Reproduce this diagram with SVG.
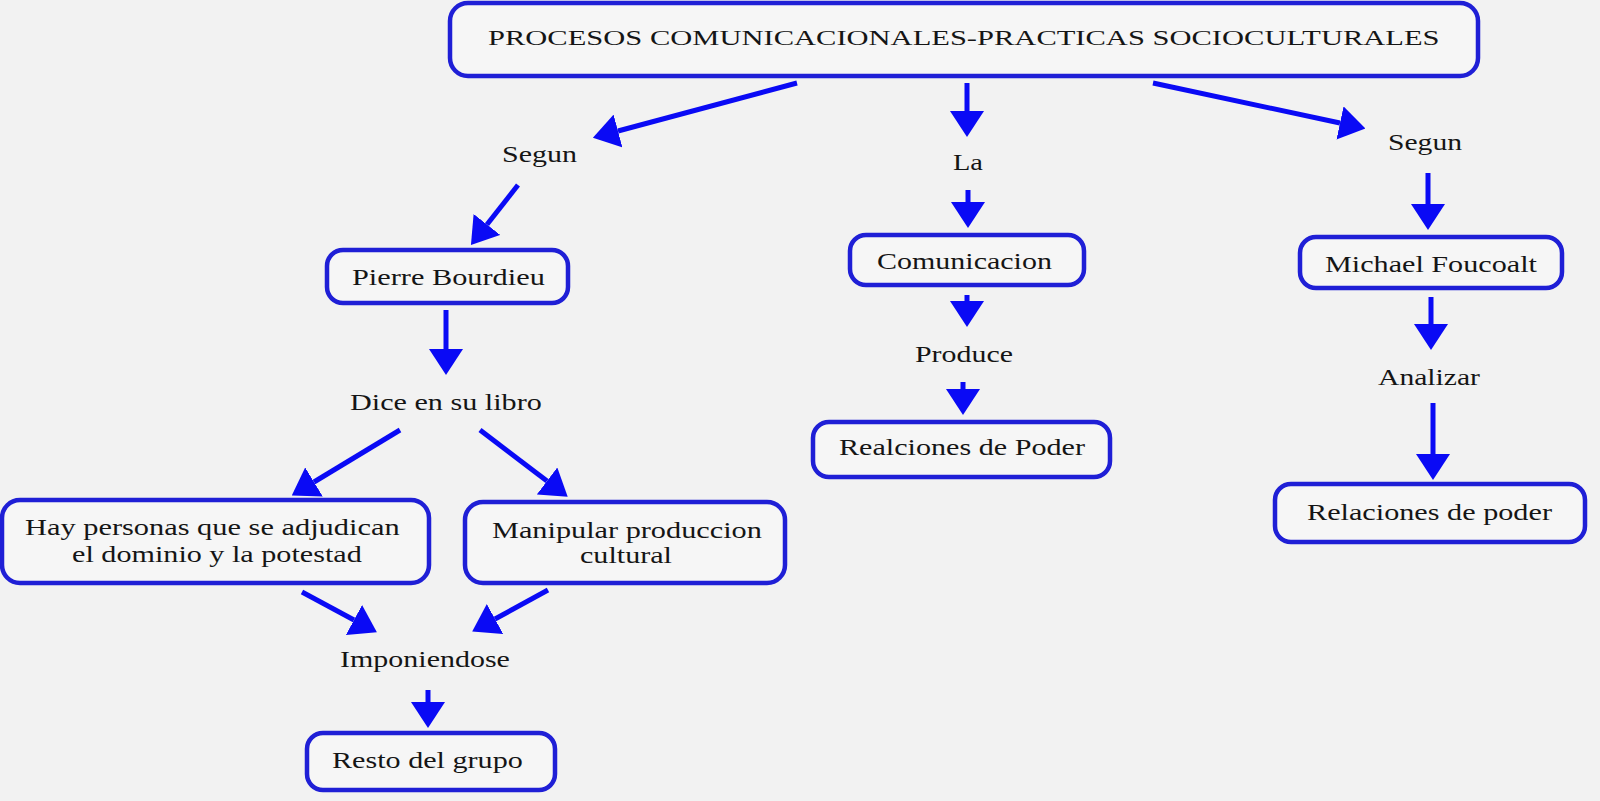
<svg xmlns="http://www.w3.org/2000/svg" width="1600" height="801" viewBox="0 0 1600 801">
<defs>
<marker id="ah" viewBox="0 0 26 34" markerWidth="26" markerHeight="34" refX="0" refY="17" orient="auto" markerUnits="userSpaceOnUse">
<path d="M0,0 L26,17 L0,34 Z" fill="#0a0af5"/>
</marker>
<style>
.box{fill:#f6f6f6;stroke:#1f1fd6;stroke-width:4.5}
.t{font-family:"Liberation Serif","Times New Roman",serif;font-size:23px;fill:#151515}
.tt{font-family:"Liberation Serif","Times New Roman",serif;font-size:21px;fill:#151515}
.c{stroke:#0a0af5;stroke-width:5;fill:none;marker-end:url(#ah)}
</style>
</defs>
<rect width="1600" height="801" fill="#f2f2f2"/>
<g id="connectors">
<line class="c" x1="797" y1="83" x2="618" y2="131"/>
<line class="c" x1="967" y1="83" x2="967" y2="111"/>
<line class="c" x1="1153" y1="83" x2="1340" y2="123"/>
<line class="c" x1="518" y1="185" x2="487" y2="224.5"/>
<line class="c" x1="446" y1="310" x2="446" y2="349"/>
<line class="c" x1="400" y1="430" x2="314" y2="482"/>
<line class="c" x1="480" y1="430" x2="547" y2="481"/>
<line class="c" x1="302" y1="592" x2="354" y2="620"/>
<line class="c" x1="548" y1="590" x2="495" y2="619"/>
<line class="c" x1="428" y1="690" x2="428" y2="702"/>
<line class="c" x1="968" y1="190" x2="968" y2="202"/>
<line class="c" x1="967" y1="295" x2="967" y2="301"/>
<line class="c" x1="963" y1="382" x2="963" y2="389"/>
<line class="c" x1="1428" y1="173" x2="1428" y2="204"/>
<line class="c" x1="1431" y1="297" x2="1431" y2="324"/>
<line class="c" x1="1433" y1="403" x2="1433" y2="454"/>
</g>
<g id="title">
<rect class="box" x="450" y="3" width="1028" height="73" rx="18"/>
<text class="tt" transform="translate(488 45) scale(1.453 1)">PROCESOS COMUNICACIONALES-PRACTICAS SOCIOCULTURALES</text>
</g>
<g id="segun-left"><text class="t" transform="translate(502 162) scale(1.304 1)">Segun</text></g>
<g id="la"><text class="t" transform="translate(953 170) scale(1.235 1)">La</text></g>
<g id="segun-right"><text class="t" transform="translate(1388 150) scale(1.287 1)">Segun</text></g>
<g id="pierre">
<rect class="box" x="327" y="250" width="241" height="53" rx="16"/>
<text class="t" transform="translate(352 285) scale(1.319 1)">Pierre Bourdieu</text>
</g>
<g id="comunicacion">
<rect class="box" x="850" y="235" width="234" height="50" rx="16"/>
<text class="t" transform="translate(877 269) scale(1.304 1)">Comunicacion</text>
</g>
<g id="michael">
<rect class="box" x="1300" y="237" width="262" height="51" rx="16"/>
<text class="t" transform="translate(1325 272) scale(1.312 1)">Michael Foucoalt</text>
</g>
<g id="dice"><text class="t" transform="translate(350 410) scale(1.312 1)">Dice en su libro</text></g>
<g id="produce"><text class="t" transform="translate(915 362) scale(1.30 1)">Produce</text></g>
<g id="analizar"><text class="t" transform="translate(1378 385) scale(1.288 1)">Analizar</text></g>
<g id="realciones">
<rect class="box" x="813" y="422" width="297" height="55" rx="16"/>
<text class="t" transform="translate(839 455) scale(1.31 1)">Realciones de Poder</text>
</g>
<g id="relaciones">
<rect class="box" x="1275" y="484" width="310" height="58" rx="16"/>
<text class="t" transform="translate(1307 520) scale(1.314 1)">Relaciones de poder</text>
</g>
<g id="hay">
<rect class="box" x="2" y="500" width="427" height="83" rx="18"/>
<text class="t" transform="translate(25 535) scale(1.322 1)">Hay personas que se adjudican</text>
<text class="t" transform="translate(72 562) scale(1.312 1)">el dominio y la potestad</text>
</g>
<g id="manipular">
<rect class="box" x="465" y="502" width="320" height="81" rx="18"/>
<text class="t" transform="translate(492 538) scale(1.317 1)">Manipular produccion</text>
<text class="t" transform="translate(580 563) scale(1.309 1)">cultural</text>
</g>
<g id="imponiendose"><text class="t" transform="translate(340 667) scale(1.305 1)">Imponiendose</text></g>
<g id="resto">
<rect class="box" x="307" y="733" width="248" height="57" rx="16"/>
<text class="t" transform="translate(332 768) scale(1.311 1)">Resto del grupo</text>
</g>
</svg>
